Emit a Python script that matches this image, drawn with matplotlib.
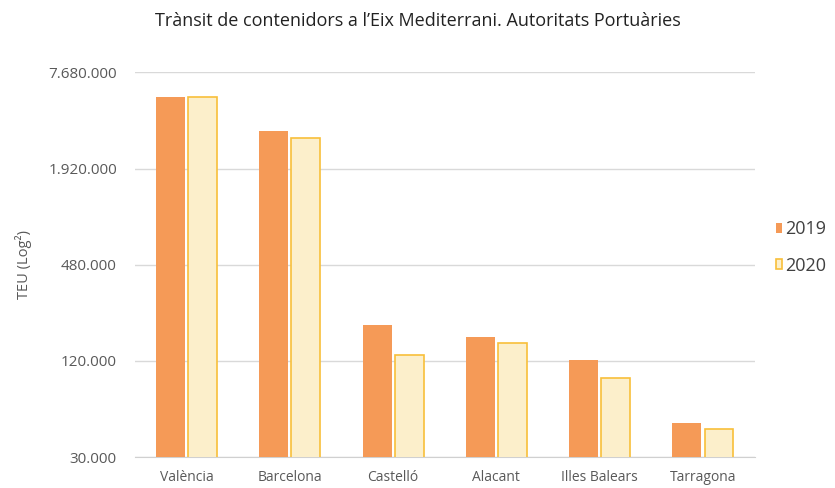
import numpy as np
import matplotlib.pyplot as plt

ports = ['València', 'Barcelona', 'Castelló', 'Alacant', 'Illes Balears', 'Tarragona']
teu_2019 = [5430000, 3320000, 200000, 169000, 122000, 48800]
teu_2020 = [5430000, 2980000, 130000, 155000, 93700, 44700]
ytick_vals = [30000, 120000, 480000, 1920000, 7680000]
ytick_labels = ['30.000', '120.000', '480.000', '1.920.000', '7.680.000']

plt.rcParams['font.family'] = ['Open Sans', 'DejaVu Sans']

fig = plt.figure(figsize=(8.35, 4.88), dpi=100)
ax = fig.add_axes([0.1617, 0.0635, 0.742, 0.788])

x = np.arange(len(ports))
w = 0.28
ax.bar(x - w / 2 - 0.015, teu_2019, w, color='#F59A57', label='2019', zorder=3)
ax.bar(x + w / 2 + 0.015, teu_2020, w, color='#FCEFCB', edgecolor='#F8BF3A',
       linewidth=1.2, label='2020', zorder=3)

ax.set_yscale('log', base=2)
ax.set_ylim(30000, 7680000)
ax.set_xlim(-0.5, len(ports) - 0.5)
ax.set_yticks(ytick_vals)
ax.set_yticklabels(ytick_labels)
ax.minorticks_off()
ax.set_xticks(x)
ax.set_xticklabels(ports)
ax.tick_params(axis='both', length=0, colors='#595959')
ax.tick_params(axis='y', pad=13, labelsize=11)
ax.tick_params(axis='x', pad=9, labelsize=10)
ax.grid(axis='y', color='#D9D9D9', linewidth=1, zorder=0)
for s in ['top', 'right', 'left']:
    ax.spines[s].set_visible(False)
ax.spines['bottom'].set_color('#D0D0D0')

ax.set_ylabel('TEU (Log²)', color='#595959', fontsize=10.5, labelpad=12)
fig.suptitle('Trànsit de contenidors a l’Eix Mediterrani. Autoritats Portuàries',
             x=0.5, y=0.975, fontsize=13, color='#222222')

handles, labels = ax.get_legend_handles_labels()
fig.legend(handles, labels, loc='center left', bbox_to_anchor=(776 / 835, 1 - 247.5 / 488),
           frameon=False, fontsize=13, labelcolor='#404040', handlelength=0.34,
           handleheight=0.48, handletextpad=0.15, labelspacing=1.0,
           borderpad=0, borderaxespad=0)

fig.savefig('out.png', dpi=100)
